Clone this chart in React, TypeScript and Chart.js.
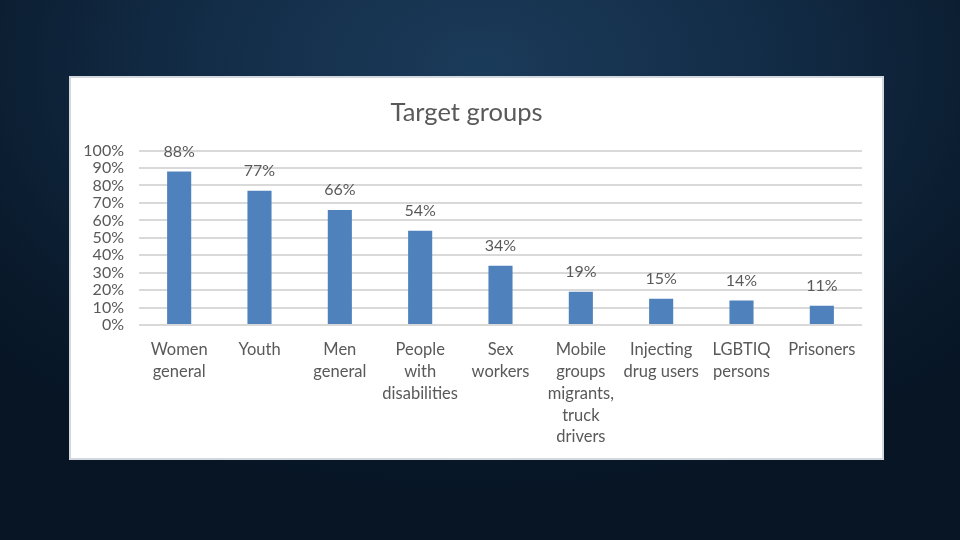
import React, { useEffect, useRef } from "react";
import { Chart, registerables } from "chart.js";

Chart.register(...registerables);

const TITLE = "Target groups";
const CATEGORIES: (string | string[])[] = [
  ["Women", "general"],
  ["Youth"],
  ["Men", "general"],
  ["People", "with", "disabilities"],
  ["Sex", "workers"],
  ["Mobile", "groups", "migrants,", "truck", "drivers"],
  ["Injecting", "drug users"],
  ["LGBTIQ", "persons"],
  ["Prisoners"],
];
const VALUES = [88, 77, 66, 54, 34, 19, 15, 14, 11];
const TICK_STEP = 10;
const Y_MAX = 100;

const FONT = "Lato, 'Open Sans', sans-serif";
const TEXT = "#595959";
const BAR = "#4F81BD";

const labelPlugin = {
  id: "barLabels",
  afterDatasetsDraw(chart: any) {
    const ctx = chart.ctx;
    const meta = chart.getDatasetMeta(0);
    ctx.save();
    ctx.font = `16px ${FONT}`;
    ctx.fillStyle = TEXT;
    ctx.textAlign = "center";
    ctx.textBaseline = "middle";
    meta.data.forEach((bar: any, i: number) => {
      ctx.fillText(`${VALUES[i]}%`, bar.x, bar.y - 20);
    });
    ctx.restore();
  },
};

export default function App() {
  const ref = useRef<HTMLCanvasElement | null>(null);

  useEffect(() => {
    if (!ref.current) return;
    const chart = new Chart(ref.current, {
      type: "bar",
      data: {
        labels: CATEGORIES,
        datasets: [
          {
            data: VALUES,
            backgroundColor: BAR,
            borderWidth: 0,
            barPercentage: 0.3,
            categoryPercentage: 1,
          },
        ],
      },
      options: {
        animation: false,
        responsive: false,
        maintainAspectRatio: false,
        layout: { padding: { left: 0, right: 20, top: 0, bottom: 0 } },
        plugins: {
          legend: { display: false },
          tooltip: { enabled: false },
          title: {
            display: true,
            text: TITLE,
            color: TEXT,
            font: { family: FONT, size: 25.5, weight: "normal" },
            padding: { top: 19, bottom: 23 },
          },
        },
        scales: {
          x: {
            grid: { display: false, drawTicks: false },
            border: { display: false },
            ticks: {
              color: TEXT,
              font: { family: FONT, size: 16.5, lineHeight: 1.32 },
              maxRotation: 0,
              autoSkip: false,
              padding: 14,
            },
            afterFit(scale: any) {
              scale.height = 133;
            },
          },
          y: {
            min: 0,
            max: Y_MAX,
            grid: { color: "#d9d9d9", lineWidth: 2, drawTicks: false },
            border: { display: false },
            ticks: {
              stepSize: TICK_STEP,
              autoSkip: false,
              color: TEXT,
              font: { family: FONT, size: 16, lineHeight: 1 },
              padding: 15,
              callback: (v: any) => `${v}%`,
            },
            afterFit(scale: any) {
              scale.width = 68;
            },
          },
        },
      },
      plugins: [labelPlugin],
    });
    return () => chart.destroy();
  }, []);

  return (
    <div
      style={{
        position: "fixed",
        left: 0,
        top: 0,
        width: 960,
        height: 540,
        background:
          "radial-gradient(ellipse 70% 80% at 50% 12%, #1b3b5a 0%, #122b45 45%, #0a1b2d 80%, #07152542 100%), #071525",
        overflow: "hidden",
      }}
    >
      <div
        style={{
          position: "absolute",
          left: 69,
          top: 76,
          width: 811,
          height: 380,
          background: "#ffffff",
          border: "2px solid #d3d8de",
        }}
      >
        <canvas ref={ref} width={811} height={380} style={{ display: "block" }} />
      </div>
    </div>
  );
}
